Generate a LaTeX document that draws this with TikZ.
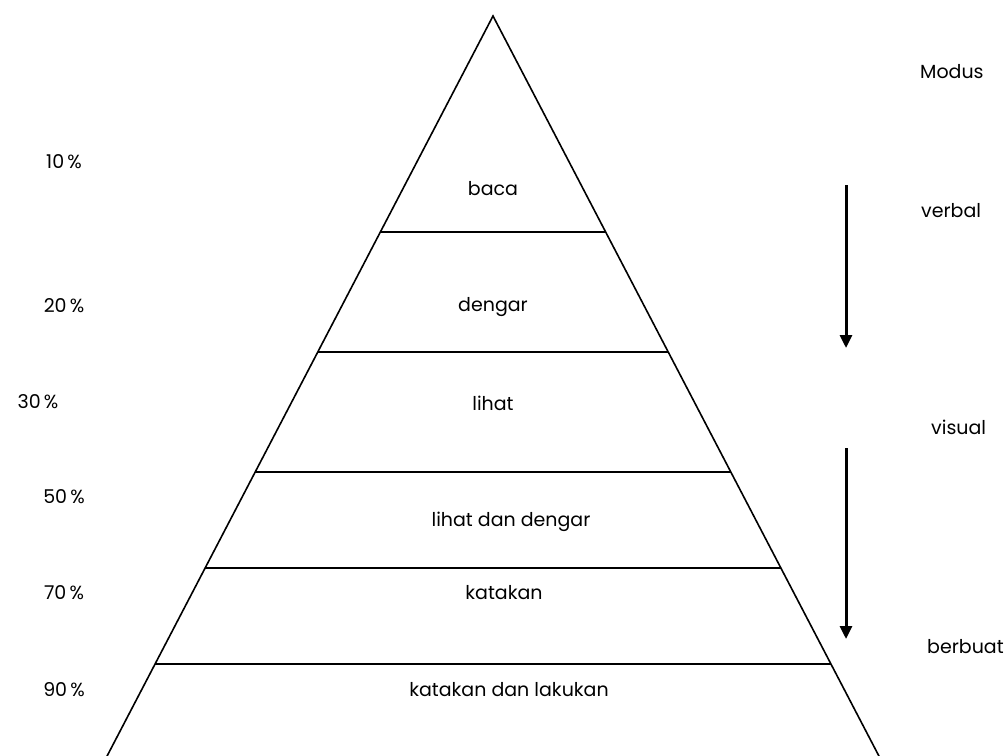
\documentclass[tikz,border=0pt]{standalone}
\usepackage{fontspec}
\setmainfont{Poppins}
\usetikzlibrary{arrows.meta}
\begin{document}
\begin{tikzpicture}[x=1pt,y=-1pt,
  lbl/.style={inner sep=0pt,font=\fontsize{19}{21}\selectfont},
  edge/.style={line width=1.6pt},
  bar/.style={line width=1.4pt},
  flow/.style={line width=3pt,-{Triangle[length=13pt,width=12pt]}}]
\useasboundingbox (0,0) rectangle (1008,755);
% pyramid
\coordinate (apex) at (493,16);
\coordinate (bl) at (105,760);
\coordinate (br) at (881,760);
\draw[edge] (bl) -- (apex) -- (br);
\foreach \y/\n in {232/a,352/b,472/c,568/d,664/e}{
  \pgfmathsetmacro{\dx}{0.5215*(\y-16)}
  \coordinate (L\n) at ({493-\dx},\y);
  \coordinate (R\n) at ({493+\dx},\y);
  \draw[bar] (L\n) -- (R\n);
}
% level texts
\node[lbl] (t1) at (493,189) {baca};
\node[lbl] (t2) at (493,307) {dengar};
\node[lbl] (t3) at (493,403) {lihat};
\node[lbl] (t4) at (511,522) {lihat dan dengar};
\node[lbl] (t5) at (504,593) {katakan};
\node[lbl] (t6) at (509,690) {katakan dan lakukan};
% percentages
\node[lbl] (p1) at (64,162) {10\,\%};
\node[lbl] (p2) at (64,306) {20\,\%};
\node[lbl] (p3) at (38,402) {30\,\%};
\node[lbl] (p4) at (64,497) {50\,\%};
\node[lbl] (p5) at (64,593) {70\,\%};
\node[lbl] (p6) at (64,690) {90\,\%};
% modes
\node[lbl,anchor=west] (m0) at (920,72) {Modus};
\node[lbl,anchor=west] (m1) at (921,211) {verbal};
\node[lbl,anchor=west] (m2) at (931,427) {visual};
\node[lbl,anchor=west] (m3) at (927,647) {berbuat};
% arrows
\coordinate (a1s) at (846,185);
\coordinate (a1e) at (846,348);
\coordinate (a2s) at (846,448);
\coordinate (a2e) at (846,639);
\draw[flow] (a1s) -- (a1e);
\draw[flow] (a2s) -- (a2e);
\end{tikzpicture}
\end{document}
